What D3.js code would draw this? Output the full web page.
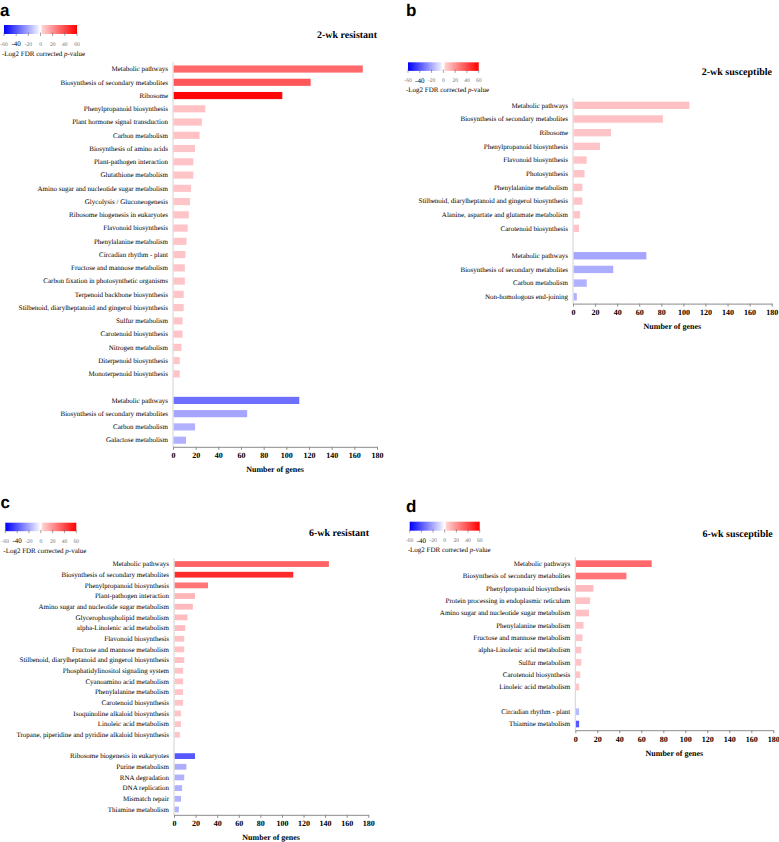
<!DOCTYPE html>
<html><head><meta charset="utf-8">
<script src="https://cdnjs.cloudflare.com/ajax/libs/d3/7.8.5/d3.min.js"></script>
<style>body{margin:0;background:#fff;} svg{display:block;} svg text{text-rendering:geometricPrecision;}</style>
</head><body><div id="chart"></div>
<script>
// ---------- DATA ----------
const geneTicks = [0, 20, 40, 60, 80, 100, 120, 140, 160, 180];
const legendTicks = [-60, -40, -20, 0, 20, 40, 60];

// Panel a: 2-wk resistant
const aUpPathways = ["Metabolic pathways","Biosynthesis of secondary metabolites","Ribosome","Phenylpropanoid biosynthesis","Plant hormone signal transduction","Carbon metabolism","Biosynthesis of amino acids","Plant-pathogen interaction","Glutathione metabolism","Amino sugar and nucleotide sugar metabolism","Glycolysis / Gluconeogenesis","Ribosome biogenesis in eukaryotes","Flavonoid biosynthesis","Phenylalanine metabolism","Circadian rhythm - plant","Fructose and mannose metabolism","Carbon fixation in photosynthetic organisms","Terpenoid backbone biosynthesis","Stilbenoid, diarylheptanoid and gingerol biosynthesis","Sulfur metabolism","Carotenoid biosynthesis","Nitrogen metabolism","Diterpenoid biosynthesis","Monoterpenoid biosynthesis"];
const aUpGenes = [167, 121, 96, 28, 25, 23, 19, 17.5, 17.5, 15.5, 14.5, 13.5, 12.5, 11.5, 10.5, 10, 10, 9, 9, 8, 8, 7, 5.5, 5.5];
const aUpLog2 = [30, 35, 58, 5, 5, 5, 4, 4, 4, 4, 4, 4, 4, 4, 4, 4, 4, 4, 4, 4, 4, 4, 4, 4];
const aDownPathways = ["Metabolic pathways","Biosynthesis of secondary metabolites","Carbon metabolism","Galactose metabolism"];
const aDownGenes = [111, 65, 19, 11];
const aDownLog2 = [-32, -18, -15, -15];

// Panel b: 2-wk susceptible
const bUpPathways = ["Metabolic pathways","Biosynthesis of secondary metabolites","Ribosome","Phenylpropanoid biosynthesis","Flavonoid biosynthesis","Photosynthesis","Phenylalanine metabolism","Stilbenoid, diarylheptanoid and gingerol biosynthesis","Alanine, aspartate and glutamate metabolism","Carotenoid biosynthesis"];
const bUpGenes = [105, 81, 34, 24, 12, 10, 8, 8, 6, 5];
const bUpLog2 = [5, 5, 4, 4, 4, 4, 4, 4, 4, 4];
const bDownPathways = ["Metabolic pathways","Biosynthesis of secondary metabolites","Carbon metabolism","Non-homologous end-joining"];
const bDownGenes = [66, 36, 12, 3];
const bDownLog2 = [-18, -16, -15, -15];

// Panel c: 6-wk resistant
const cUpPathways = ["Metabolic pathways","Biosynthesis of secondary metabolites","Phenylpropanoid biosynthesis","Plant-pathogen interaction","Amino sugar and nucleotide sugar metabolism","Glycerophospholipid metabolism","alpha-Linolenic acid metabolism","Flavonoid biosynthesis","Fructose and mannose metabolism","Stilbenoid, diarylheptanoid and gingerol biosynthesis","Phosphatidylinositol signaling system","Cyanoamino acid metabolism","Phenylalanine metabolism","Carotenoid biosynthesis","Isoquinoline alkaloid biosynthesis","Linoleic acid metabolism","Tropane, piperidine and pyridine alkaloid biosynthesis"];
const cUpGenes = [143, 110, 31, 19, 17, 12, 10, 9, 9, 9, 8, 8, 8, 8, 6, 6, 5];
const cUpLog2 = [32, 48, 27, 8, 7, 6, 6, 5, 5, 5, 4, 4, 4, 4, 4, 4, 4];
const cDownPathways = ["Ribosome biogenesis in eukaryotes","Purine metabolism","RNA degradation","DNA replication","Mismatch repair","Thiamine metabolism"];
const cDownGenes = [19, 11, 9, 7, 6, 4];
const cDownLog2 = [-38, -16, -15, -15, -15, -15];

// Panel d: 6-wk susceptible
const dUpPathways = ["Metabolic pathways","Biosynthesis of secondary metabolites","Phenylpropanoid biosynthesis","Protein processing in endoplasmic reticulum","Amino sugar and nucleotide sugar metabolism","Phenylalanine metabolism","Fructose and mannose metabolism","alpha-Linolenic acid metabolism","Sulfur metabolism","Carotenoid biosynthesis","Linoleic acid metabolism"];
const dUpGenes = [69, 46, 16, 13, 12, 7, 6, 5, 5, 4, 3];
const dUpLog2 = [30, 27, 7, 5, 5, 4, 4, 4, 4, 4, 4];
const dDownPathways = ["Circadian rhythm - plant","Thiamine metabolism"];
const dDownGenes = [3, 3];
const dDownLog2 = [-13, -38];

// ---------- LAYOUT ----------
const W = 779, H = 842;
const SERIF = "'Liberation Serif','Times New Roman',serif";
const SANS = "'Liberation Sans',Arial,sans-serif";

const panels = [
  {letter:'a', title:'2-wk resistant', up:[aUpPathways,aUpGenes,aUpLog2], down:[aDownPathways,aDownGenes,aDownLog2],
   lx:0, ly:15.6, tx:377, ty:37.5, gx:4, gy:25, gw:73, gh:9, x0:173, x1:377, top:62.4, bottom:446.8},
  {letter:'b', title:'2-wk susceptible', up:[bUpPathways,bUpGenes,bUpLog2], down:[bDownPathways,bDownGenes,bDownLog2],
   lx:406, ly:15.6, tx:772, ty:75, gx:408, gy:62.3, gw:70.7, gh:8.6, x0:573, x1:771.7, top:98.5, bottom:303.6},
  {letter:'c', title:'6-wk resistant', up:[cUpPathways,cUpGenes,cUpLog2], down:[cDownPathways,cDownGenes,cDownLog2],
   lx:0.5, ly:507.5, tx:369, ty:536, gx:5.3, gy:522.7, gw:71, gh:8.5, x0:174, x1:368.3, top:558.7, bottom:814.8},
  {letter:'d', title:'6-wk susceptible', up:[dUpPathways,dUpGenes,dUpLog2], down:[dDownPathways,dDownGenes,dDownLog2],
   lx:406, ly:511.7, tx:772.7, ty:537, gx:409.7, gy:521.7, gw:70, gh:9, x0:575.3, x1:773.3, top:557.5, bottom:730.2}
];

const svg = d3.select('#chart').append('svg').attr('width', W).attr('height', H);
svg.append('rect').attr('width', W).attr('height', H).attr('fill', '#fff');

const redColor = d3.scaleLinear().domain([0, 60]).range(['#ffd2d6', '#ff0000']).clamp(true);
const blueColor = d3.scaleLinear().domain([-60, 0]).range(['#0000ff', '#ececff']).clamp(true);
const colorOf = v => v >= 0 ? redColor(v) : blueColor(v);

const defs = svg.append('defs');
const gb = defs.append('linearGradient').attr('id', 'gradBlue');
gb.append('stop').attr('offset', 0).attr('stop-color', blueColor(-60));
gb.append('stop').attr('offset', 1).attr('stop-color', '#f6f6ff');
const gr = defs.append('linearGradient').attr('id', 'gradRed');
gr.append('stop').attr('offset', 0).attr('stop-color', '#ffd6d6');
gr.append('stop').attr('offset', 1).attr('stop-color', redColor(60));

function drawPanel(p) {
  const g = svg.append('g');
  // panel letter
  g.append('text').attr('x', p.lx).attr('y', p.ly).text(p.letter)
    .attr('font-family', SANS).attr('font-weight', 'bold').attr('font-size', 17).attr('fill', '#000');
  // title
  g.append('text').attr('x', p.tx).attr('y', p.ty).attr('text-anchor', 'end').text(p.title)
    .attr('font-family', SERIF).attr('font-weight', 'bold').attr('font-size', 10).attr('fill', '#000');

  // legend
  const lg = d3.scaleLinear().domain([-60, 60]).range([p.gx, p.gx + p.gw]);
  const half = p.gw / 2;
  g.append('rect').attr('x', p.gx).attr('y', p.gy).attr('width', half - 1).attr('height', p.gh).attr('fill', 'url(#gradBlue)');
  g.append('rect').attr('x', p.gx + half + 1).attr('y', p.gy).attr('width', half - 1).attr('height', p.gh).attr('fill', 'url(#gradRed)');
  g.selectAll('line.lt').data(legendTicks).join('line').attr('class', 'lt')
    .attr('x1', d => lg(d)).attr('x2', d => lg(d)).attr('y1', p.gy + p.gh - 1.5).attr('y2', p.gy + p.gh + 2)
    .attr('stroke', '#666').attr('stroke-width', 0.6);
  g.selectAll('text.ltl').data(legendTicks).join('text').attr('class', 'ltl')
    .attr('x', d => lg(d)).attr('y', d => p.gy + p.gh + (d === -40 ? 12.2 : 11.5)).attr('text-anchor', 'middle')
    .attr('font-family', SERIF).attr('font-size', d => d === -40 ? 7 : 5.5)
    .attr('fill', d => d === -40 ? '#000' : '#777').text(d => d);
  const lt = g.append('text').attr('x', p.gx - 2).attr('y', p.gy + p.gh + 21.5)
    .attr('font-family', SERIF).attr('font-size', 7).attr('fill', '#000');
  lt.append('tspan').text('-Log2 FDR corrected ');
  lt.append('tspan').attr('font-style', 'italic').text('p');
  lt.append('tspan').text('-value');

  // rows
  const rows = p.up[0].map((name, i) => ({key: 'u' + i, name, genes: p.up[1][i], log: p.up[2][i]}))
    .concat([{key: 'gap', name: '', genes: 0, log: 0}])
    .concat(p.down[0].map((name, i) => ({key: 'd' + i, name, genes: p.down[1][i], log: p.down[2][i]})));
  const nameOf = new Map(rows.map(r => [r.key, r.name]));
  const y = d3.scaleBand().domain(rows.map(r => r.key)).range([p.top, p.bottom]).paddingInner(0.46).paddingOuter(0.23);
  const x = d3.scaleLinear().domain([0, 180]).range([p.x0, p.x1]);

  g.selectAll('rect.bar').data(rows.filter(r => r.key !== 'gap')).join('rect').attr('class', 'bar')
    .attr('x', x(0) + 0.5).attr('y', d => y(d.key)).attr('width', d => x(d.genes) - x(0))
    .attr('height', y.bandwidth()).attr('fill', d => colorOf(d.log));

  // category labels
  const ya = g.append('g').attr('transform', `translate(${x(0)},0)`)
    .call(d3.axisLeft(y).tickSize(0).tickPadding(5).tickFormat(k => nameOf.get(k)));
  ya.select('.domain').remove();
  ya.attr('font-family', SERIF).attr('font-size', 7);
  ya.selectAll('text').attr('fill', '#000');

  // vertical axis line
  g.append('line').attr('x1', x(0)).attr('x2', x(0)).attr('y1', p.top - 0.5).attr('y2', p.bottom)
    .attr('stroke', '#d2d2d2').attr('stroke-width', 1);

  // bottom axis
  const xa = g.append('g').attr('transform', `translate(0,${p.bottom})`)
    .call(d3.axisBottom(x).tickValues(geneTicks).tickSize(3).tickPadding(3).tickSizeOuter(0));
  xa.attr('font-family', SERIF).attr('font-size', 8).attr('font-weight', 'bold');
  xa.select('.domain').attr('stroke', '#8a8a8a');
  xa.selectAll('.tick line').attr('stroke', '#8a8a8a');
  xa.selectAll('text').attr('fill', '#000');

  g.append('text').attr('x', (p.x0 + p.x1) / 2).attr('y', p.bottom + 25.5).attr('text-anchor', 'middle')
    .attr('font-family', SERIF).attr('font-weight', 'bold').attr('font-size', 8).attr('fill', '#000')
    .text('Number of genes');
}

panels.forEach(drawPanel);
</script>
</body></html>
